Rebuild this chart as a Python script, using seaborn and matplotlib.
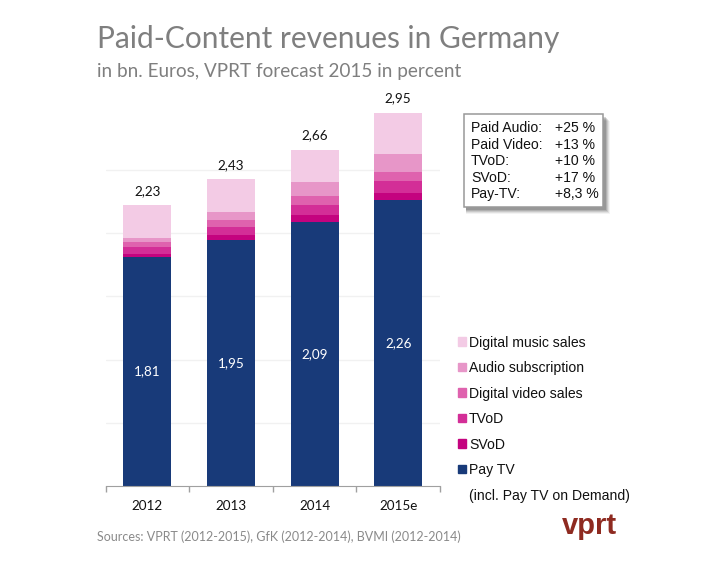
import numpy as np
import matplotlib
matplotlib.use("Agg")
import matplotlib.pyplot as plt
from matplotlib.patches import Patch, Rectangle
import seaborn as sns

years = ["2012", "2013", "2014", "2015e"]
pay_tv = [1.81, 1.95, 2.09, 2.26]
svod = [0.024, 0.034, 0.053, 0.06]
tvod = [0.053, 0.068, 0.081, 0.092]
video_sales = [0.047, 0.05, 0.068, 0.076]
audio_subs = [0.03, 0.063, 0.11, 0.137]
music_sales = [0.26, 0.265, 0.26, 0.329]
total_labels = ["2,23", "2,43", "2,66", "2,95"]
pay_labels = ["1,81", "1,95", "2,09", "2,26"]

series_names = ["Pay TV", "SVoD", "TVoD", "Digital video sales", "Audio subscription", "Digital music sales"]
series_vals = [pay_tv, svod, tvod, video_sales, audio_subs, music_sales]
series_cols = ["#183a79", "#c4037f", "#d32e97", "#df62ae", "#e796c8", "#f3cbe5"]

box_names = ["Paid Audio:", "Paid Video:", "TVoD:", "SVoD:", "Pay-TV:"]
box_vals = ["+25 %", "+13 %", "+10 %", "+17 %", "+8,3 %"]

sns.set_style("white")
W, H = 718, 588
fig = plt.figure(figsize=(W / 100, H / 100), dpi=100)


def fx(px):
    return px / W


def fy(py):
    return 1 - py / H


ax = fig.add_axes([fx(105.5), fy(486), (440 - 105.5) / W, 379.2 / H])

bottom = np.zeros(4)
for name, vals, col in zip(series_names, series_vals, series_cols):
    sns.barplot(x=years, y=vals, bottom=bottom, color=col, saturation=1, width=0.573, linewidth=0, ax=ax)
    bottom = bottom + np.array(vals)

ax.set_xlim(-0.5, 3.5)
ax.set_ylim(0, 3)
ax.set_yticks([0.5, 1, 1.5, 2, 2.5])
ax.set_yticklabels([])
ax.yaxis.grid(True, color="#f1f1f1", lw=1)
ax.set_axisbelow(True)
ax.tick_params(axis="y", length=0)
ax.set_xticks([-0.5, 0.5, 1.5, 2.5, 3.5])
ax.set_xticklabels([])
ax.set_xticks(range(4), years, minor=True, fontfamily="Lato", fontsize=9.7, color="#111111")
ax.tick_params(axis="x", which="major", length=4, width=1, color="#a0a0a0", direction="out", bottom=True)
ax.tick_params(axis="x", which="minor", length=0, pad=10)
sns.despine(ax=ax, left=True, top=True, right=True)
ax.spines["bottom"].set_color("#a0a0a0")
ax.set_xlabel("")
ax.set_ylabel("")

for i in range(4):
    ax.annotate(total_labels[i], (i, bottom[i]), xytext=(0, 10.2), textcoords="offset points",
                ha="center", va="center", fontfamily="Lato", fontsize=9.7, color="#111111")
    ax.text(i, pay_tv[i] / 2, pay_labels[i], ha="center", va="center",
            fontfamily="Lato", fontsize=9.7, color="white")

fig.text(fx(97), fy(39), "Paid-Content revenues in Germany", fontfamily="Lato", fontsize=21.5,
         color="#7f7f7f", va="center")
fig.text(fx(97), fy(71.5), "in bn. Euros, VPRT forecast 2015 in percent", fontfamily="Lato", fontsize=13.6,
         color="#7f7f7f", va="center")
fig.text(fx(97), fy(537), "Sources: VPRT (2012-2015), GfK (2012-2014), BVMI (2012-2014)", fontfamily="Lato",
         fontsize=9.02, color="#8a8a8a", va="center")

# legend, top entry first, last row is only the note under Pay TV
handles = [Patch(color=c) for c in series_cols[::-1]] + [Patch(color="none")]
labels = series_names[::-1] + ["(incl. Pay TV on Demand)"]
fig.legend(handles, labels, loc="upper left", bbox_to_anchor=(fx(458), fy(335.5)), borderaxespad=0, borderpad=0,
           frameon=False, prop={"family": "Liberation Sans", "size": 10.1}, handlelength=0.57, handleheight=0.57,
           handletextpad=0.22, labelspacing=0.82, labelcolor="#111111")

# box with soft shadow
bx0, bx1, by0, by1 = 464, 603, 114, 207
for off, alpha in zip([7, 6, 5, 4, 3], [0.06, 0.1, 0.14, 0.18, 0.22]):
    fig.add_artist(Rectangle((fx(bx0 + 2), fy(by1 + off)), (bx1 - bx0 + off - 2) / W, (by1 - by0) / H,
                             transform=fig.transFigure, fc="#404040", ec="none", alpha=alpha))
fig.add_artist(Rectangle((fx(bx0), fy(by1)), (bx1 - bx0) / W, (by1 - by0) / H, transform=fig.transFigure,
                         fc="white", ec="#999999", lw=1.1))
for i in range(5):
    y = 128.5 + i * 16.4
    fig.text(fx(471), fy(y), box_names[i], fontfamily="Liberation Sans", fontsize=10.1, color="#111111", va="center")
    fig.text(fx(555), fy(y), box_vals[i], fontfamily="Liberation Sans", fontsize=10.1, color="#111111", va="center")

fig.text(fx(589), fy(526), "vprt", fontfamily="Liberation Sans", fontsize=21, fontweight="bold",
         color="#8e2a20", ha="center", va="center")

fig.savefig("out.png", dpi=100)
